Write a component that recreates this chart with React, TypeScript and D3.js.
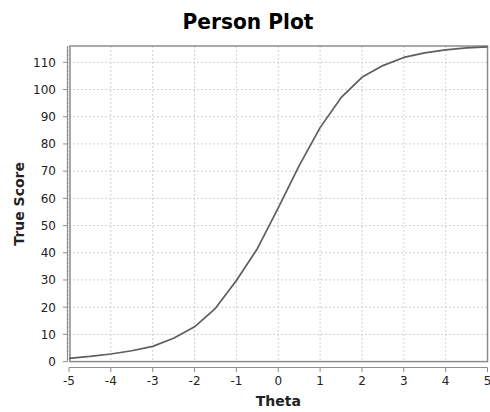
import React from "react";
import * as d3 from "d3";

const thetaValues = [-5, -4.5, -4, -3.5, -3, -2.5, -2, -1.5, -1, -0.5, 0, 0.5, 1, 1.5, 2, 2.5, 3, 3.5, 4, 4.5, 5];
const trueScores = [1.2, 1.9, 2.8, 4.0, 5.6, 8.6, 12.8, 19.6, 29.8, 41.5, 56.5, 72, 86, 97, 104.5, 108.8, 111.8, 113.5, 114.6, 115.3, 115.7];
const xTicks = [-5, -4, -3, -2, -1, 0, 1, 2, 3, 4, 5];
const yTicks = [0, 10, 20, 30, 40, 50, 60, 70, 80, 90, 100, 110];

const W = 490;
const H = 412;
const left = 69;
const right = 487.5;
const top = 46;
const bottom = 361.6;

export default function App() {
  const x = d3.scaleLinear().domain([-5, 5]).range([left, right]);
  const y = d3.scaleLinear().domain([0, 116]).range([bottom, top]);
  const line = d3
    .line<number>()
    .x((_, i) => x(thetaValues[i]))
    .y((d) => y(d));
  const path = line(trueScores) || "";
  const font = "'DejaVu Sans', Verdana, sans-serif";
  const axisColor = "#8c8c8c";
  return (
    <svg
      width={W}
      height={H}
      style={{ position: "absolute", left: 0, top: 0, background: "#fff" }}
      fontFamily={font}
    >
      <rect x={0} y={0} width={W} height={H} fill="#fff" />
      <text x={248} y={29} textAnchor="middle" fontSize={21.5} fontWeight="bold" fill="#000" textLength={131} lengthAdjust="spacingAndGlyphs">
        Person Plot
      </text>
      {/* grid */}
      {xTicks.map((t) => (
        <line key={"gx" + t} x1={x(t)} x2={x(t)} y1={top} y2={bottom} stroke="#d0d0d0" strokeWidth={1} strokeDasharray="2,2" />
      ))}
      {yTicks.map((t) => (
        <line key={"gy" + t} x1={left} x2={right} y1={y(t)} y2={y(t)} stroke="#d0d0d0" strokeWidth={1} strokeDasharray="2,2" />
      ))}
      {/* plot outline */}
      <rect x={left + 1} y={top} width={right - left - 1} height={bottom - top} fill="none" stroke={axisColor} strokeWidth={1.5} />
      {/* curve */}
      <path d={path} fill="none" stroke="#5e5e5e" strokeWidth={1.7} strokeLinejoin="round" />
      {/* y axis */}
      <line x1={67.5} x2={67.5} y1={top} y2={bottom} stroke={axisColor} strokeWidth={1.2} />
      {yTicks.map((t) => (
        <g key={"yt" + t}>
          <line x1={63} x2={67.5} y1={y(t)} y2={y(t)} stroke={axisColor} strokeWidth={1} />
          <text x={56} y={y(t)} dy="0.36em" textAnchor="end" fontSize={12} fill="#222">
            {t}
          </text>
        </g>
      ))}
      {/* x axis */}
      <line x1={left} x2={right} y1={367.5} y2={367.5} stroke={axisColor} strokeWidth={1.2} />
      {xTicks.map((t) => (
        <g key={"xt" + t}>
          <line x1={x(t)} x2={x(t)} y1={367.5} y2={372} stroke={axisColor} strokeWidth={1} />
          <text x={x(t)} y={385} textAnchor="middle" fontSize={12} fill="#222">
            {t}
          </text>
        </g>
      ))}
      <text x={(left + right) / 2} y={406} textAnchor="middle" fontSize={14} fontWeight="bold" fill="#222">
        Theta
      </text>
      <text
        transform={`translate(24, ${(top + bottom) / 2}) rotate(-90)`}
        textAnchor="middle"
        fontSize={14}
        fontWeight="bold"
        fill="#222"
      >
        True Score
      </text>
    </svg>
  );
}
